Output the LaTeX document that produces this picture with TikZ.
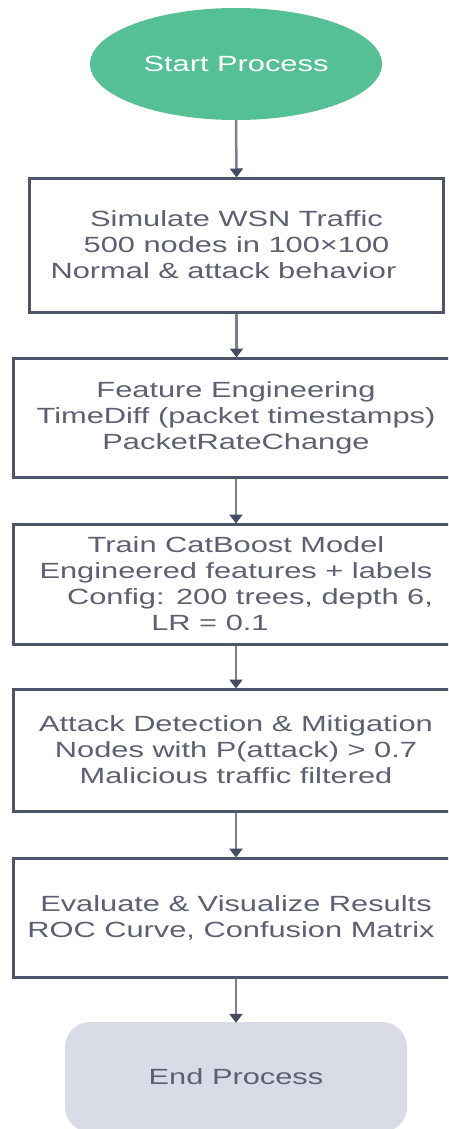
\documentclass[tikz,border=0pt]{standalone}
\usepackage{fontspec}
\setmainfont[FakeStretch=1.4]{Liberation Sans}
\usetikzlibrary{shapes.geometric,arrows.meta}
\definecolor{startgreen}{HTML}{55BF95}
\definecolor{endgray}{HTML}{D9DCE7}
\definecolor{boxline}{HTML}{4E546A}
\definecolor{txtgray}{HTML}{5C6072}
\definecolor{arrline}{HTML}{7A7F94}
\definecolor{arrhead}{HTML}{474C63}
\tikzset{
  stepbox/.style={draw=boxline, line width=3pt, fill=white, rectangle, inner sep=0pt,
    minimum width=446pt, align=center, text=txtgray,
    font=\fontsize{22}{26}\selectfont},
  startnode/.style={ellipse, fill=startgreen, minimum width=292pt, minimum height=112pt,
    inner sep=0pt, text=white, font=\fontsize{22}{26}\selectfont},
  endnode/.style={rectangle, rounded corners=25pt, fill=endgray, minimum width=342pt,
    minimum height=110pt, inner sep=0pt, text=txtgray, font=\fontsize{22}{26}\selectfont},
  arr/.style={draw=arrline, line width=2.5pt,
    -{Triangle[width=13pt,length=9pt,color=arrhead]}, shorten >=-1pt}
}
\begin{document}
\begin{tikzpicture}[x=1pt,y=-1pt]
\clip (0,0) rectangle (448,1129);
\fill[white] (0,0) rectangle (448,1129);
\node[startnode] (start) at (236,64) {Start Process};
\node[stepbox, minimum width=414pt, minimum height=134pt] (b1) at (236.5,245)
  {Simulate WSN Traffic\\500 nodes in 100×100\\Normal \& attack behavior\hspace*{26pt}};
\node[stepbox, minimum height=119pt] (b2) at (236,417.5)
  {Feature Engineering\\TimeDiff (packet timestamps)\\PacketRateChange};
\node[stepbox, minimum height=120pt] (b3) at (236,584)
  {Train CatBoost Model\\Engineered features + labels\hspace*{18pt}\\\hspace*{28pt}Config: 200 trees, depth 6,\\LR = 0.1\hspace*{52pt}};
\node[stepbox, minimum height=122pt] (b4) at (236,750)
  {Attack Detection \& Mitigation\\Nodes with P(attack) > 0.7\hspace*{46pt}\\Malicious traffic filtered};
\node[stepbox, minimum height=119pt] (b5) at (236,917.5)
  {Evaluate \& Visualize Results\\ROC Curve, Confusion Matrix\hspace*{10pt}};
\node[endnode] (end) at (236,1077) {End Process};
\draw[arr] (start.south) -- (b1.north);
\draw[arr] (b1.south) -- (b1.south |- b2.north);
\draw[arr] (b2.south) -- (b3.north);
\draw[arr] (b3.south) -- (b4.north);
\draw[arr] (b4.south) -- (b5.north);
\draw[arr] (b5.south) -- (end.north);
\end{tikzpicture}
\end{document}
